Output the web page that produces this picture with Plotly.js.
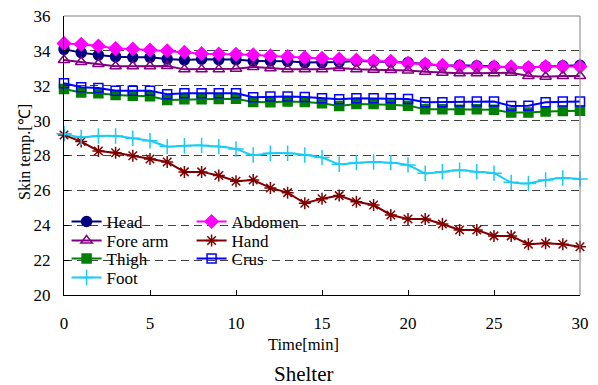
<!DOCTYPE html>
<html>
<head>
<meta charset="utf-8">
<script src="https://cdn.plot.ly/plotly-3.0.1.min.js"></script>
<style>html,body{margin:0;padding:0;background:#fff;}#chart{width:598px;height:385px;}</style>
</head>
<body>
<div id="chart"></div>
<script>
const time = [0,1,2,3,4,5,6,7,8,9,10,11,12,13,14,15,16,17,18,19,20,21,22,23,24,25,26,27,28,29,30];
const head = [34.09,33.90,33.76,33.67,33.63,33.63,33.53,33.48,33.52,33.50,33.50,33.42,33.42,33.40,33.33,33.33,33.36,33.42,33.40,33.36,33.33,33.25,33.15,33.17,33.15,33.12,33.04,33.04,33.10,33.15,33.17];
const abdomen = [34.43,34.38,34.28,34.13,34.11,34.05,34.01,33.92,33.84,33.82,33.80,33.78,33.71,33.67,33.61,33.57,33.53,33.48,33.42,33.40,33.29,33.25,33.17,33.12,33.10,33.08,33.08,33.04,33.10,33.10,33.10];
const foreArm = [33.48,33.36,33.25,33.12,33.12,33.12,33.13,32.94,32.94,32.94,32.98,33.08,33.00,32.94,32.94,32.94,33.02,32.94,32.92,32.90,32.88,32.81,32.75,32.71,32.71,32.71,32.75,32.56,32.52,32.56,32.56];
const hand = [29.18,28.80,28.26,28.16,27.99,27.80,27.63,27.06,27.06,26.85,26.52,26.60,26.14,25.87,25.26,25.52,25.70,25.35,25.16,24.59,24.36,24.36,24.07,23.73,23.73,23.39,23.39,22.91,22.97,22.91,22.77];
const thigh = [31.81,31.62,31.57,31.47,31.43,31.40,31.18,31.22,31.22,31.24,31.26,31.07,31.05,31.09,31.07,31.00,30.84,30.95,30.95,30.91,30.86,30.65,30.65,30.63,30.65,30.63,30.46,30.46,30.53,30.55,30.57];
const crus = [32.14,31.91,31.87,31.72,31.72,31.72,31.51,31.57,31.57,31.57,31.57,31.34,31.38,31.38,31.36,31.28,31.22,31.28,31.28,31.28,31.24,31.05,31.05,31.09,31.09,31.09,30.84,30.86,31.05,31.09,31.10];
const foot = [29.25,29.04,29.12,29.12,28.99,28.85,28.51,28.56,28.58,28.51,28.37,28.03,28.13,28.13,28.03,27.88,27.50,27.59,27.63,27.59,27.46,26.98,27.07,27.15,27.07,26.98,26.46,26.40,26.60,26.71,26.65];
const yTicks = [20,22,24,26,28,30,32,34,36];
const xTicks = [0,5,10,15,20,25,30];

const FONT = "'Liberation Serif', 'Times New Roman', serif";

function tr(name, y, color, symbol, size, legend, extra) {
  const t = {
    x: time, y: y, name: name, type: 'scatter', mode: 'lines+markers',
    line: {color: color, width: 2},
    marker: {color: color, symbol: symbol, size: size, line: {color: color, width: 1.5}},
    cliponaxis: false, legend: legend
  };
  return Object.assign(t, extra || {});
}

const data = [
  tr('Head', head, '#000080', 'circle', 10, 'legend'),
  tr('Abdomen', abdomen, '#FF00FF', 'diamond', 10, 'legend'),
  tr('Fore arm', foreArm, '#800080', 'triangle-up-open', 10, 'legend2'),
  tr('Hand', hand, '#800000', 'asterisk-open', 10, 'legend2'),
  tr('Thigh', thigh, '#008000', 'square', 9, 'legend3'),
  tr('Crus', crus, '#0000FF', 'square-open', 9, 'legend3'),
  tr('Foot', foot, '#1ACCF5', 'cross-thin-open', 11, 'legend4', {line: {color: '#1ACCF5', width: 2, shape: 'spline', smoothing: 0.6}})
];

function lg(y) {
  return {orientation: 'h', x: 0.005, xanchor: 'left', y: y, yanchor: 'middle',
          bgcolor: 'rgba(0,0,0,0)', borderwidth: 0, entrywidth: 80,
          font: {family: FONT, size: 17, color: '#000'}, itemwidth: 30,
          traceorder: 'normal'};
}

const layout = {
  width: 598, height: 385,
  margin: {l: 64, r: 18, t: 16, b: 90},
  paper_bgcolor: '#fff', plot_bgcolor: '#fff',
  font: {family: FONT, size: 17, color: '#000'},
  showlegend: true,
  legend: lg(0.262),
  legend2: lg(0.194),
  legend3: lg(0.129),
  legend4: lg(0.061),
  xaxis: {
    range: [0, 30], tickvals: xTicks, ticktext: xTicks.map(String),
    ticks: 'inside', ticklen: 5, tickcolor: '#000', tickwidth: 1,
    showline: true, linecolor: '#000', linewidth: 1,
    showgrid: false, zeroline: false, ticklabelstandoff: 13,
    tickfont: {family: FONT, size: 17, color: '#000'}
  },
  yaxis: {
    range: [20, 36], tickvals: yTicks, ticktext: yTicks.map(String),
    ticks: 'inside', ticklen: 5, tickcolor: '#000', tickwidth: 1,
    showline: true, linecolor: '#000', linewidth: 1,
    showgrid: true, gridcolor: '#444', gridwidth: 1, griddash: '8px,5px',
    zeroline: false, ticklabelstandoff: 9,
    tickfont: {family: FONT, size: 17, color: '#000'}
  },
  shapes: [
    {type: 'rect', xref: 'x', yref: 'paper', x0: 0.3, x1: 16.2, y0: 0.015, y1: 0.335, fillcolor: '#fff', line: {width: 0}, layer: 'between'},
    {type: 'line', xref: 'paper', yref: 'paper', x0: 0, x1: 1, y0: 1, y1: 1, line: {color: '#808080', width: 1}, layer: 'above'},
    {type: 'line', xref: 'paper', yref: 'paper', x0: 1, x1: 1, y0: 0, y1: 1, line: {color: '#808080', width: 1}, layer: 'above'}
  ],
  annotations: [
    {text: 'Time[min]', xref: 'paper', yref: 'paper', x: 0.465, y: -0.178, xanchor: 'center', yanchor: 'middle', showarrow: false, font: {family: FONT, size: 16.5, color: '#000'}},
    {text: 'Shelter', xref: 'paper', yref: 'paper', x: 0.465, y: -0.282, xanchor: 'center', yanchor: 'middle', showarrow: false, font: {family: FONT, size: 21, color: '#000'}},
    {text: 'Skin temp.[℃]', xref: 'paper', yref: 'paper', x: -0.0756, y: 0.5125, xanchor: 'center', yanchor: 'middle', textangle: -90, showarrow: false, font: {family: FONT, size: 16, color: '#000'}}
  ]
};

Plotly.newPlot('chart', data, layout, {staticPlot: true, displayModeBar: false});
</script>
</body>
</html>
